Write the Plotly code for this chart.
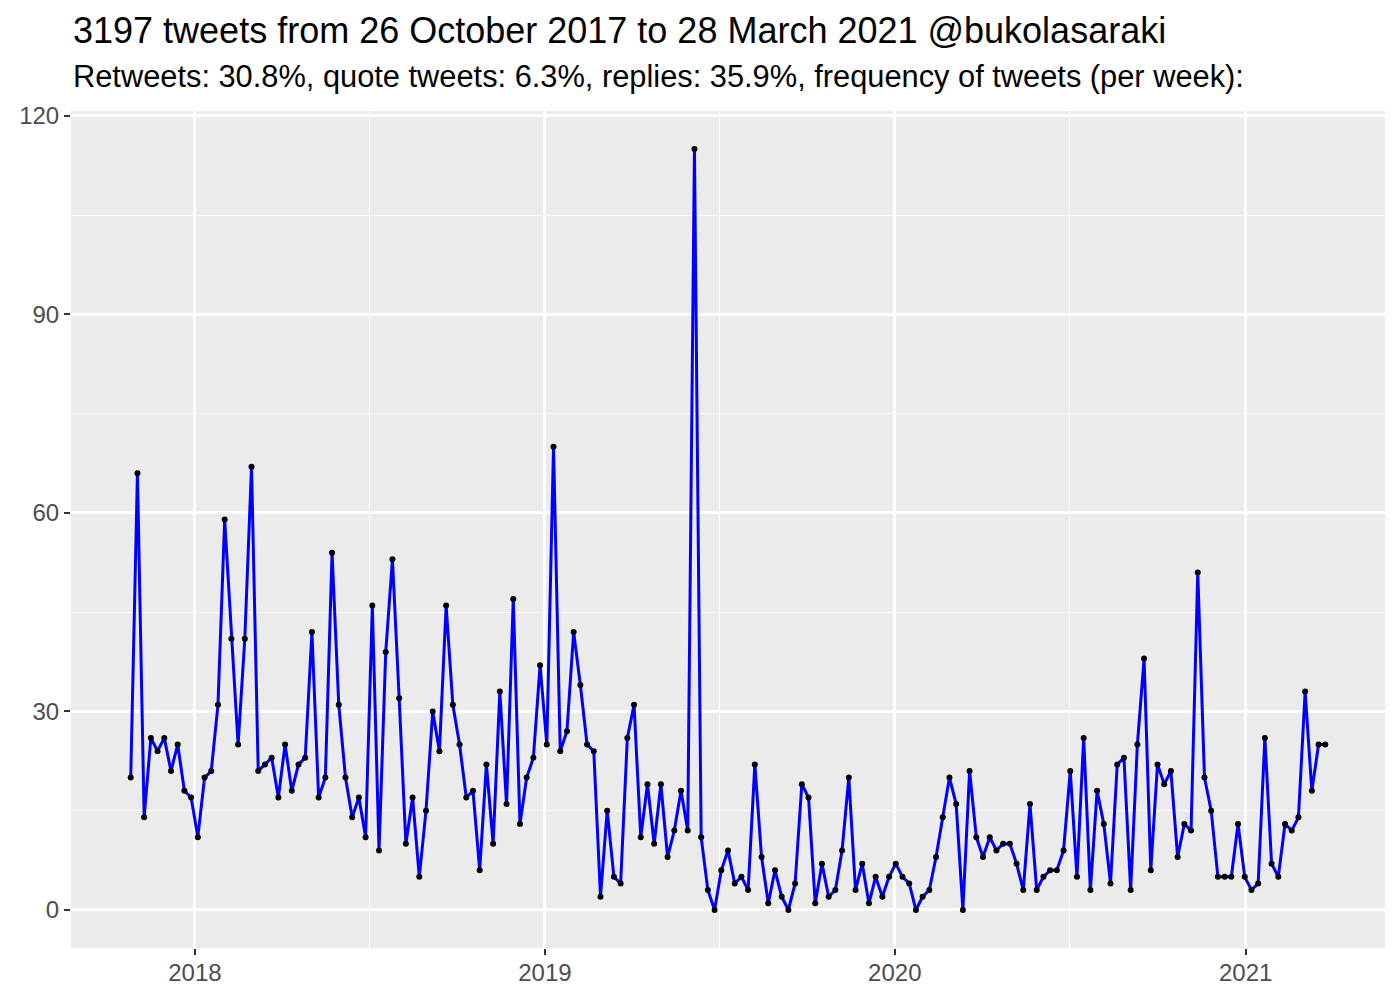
import pandas as pd
import plotly.graph_objects as go

# Weekly tweet counts
start_date = "2017-10-26"
tweets_per_week = [
    20, 66, 14, 26, 24, 26, 21, 25, 18, 17, 11, 20, 21, 31, 59, 41, 25, 41, 67, 21,
    22, 23, 17, 25, 18, 22, 23, 42, 17, 20, 54, 31, 20, 14, 17, 11, 46, 9, 39, 53,
    32, 10, 17, 5, 15, 30, 24, 46, 31, 25, 17, 18, 6, 22, 10, 33, 16, 47, 13, 20,
    23, 37, 25, 70, 24, 27, 42, 34, 25, 24, 2, 15, 5, 4, 26, 31, 11, 19, 10, 19,
    8, 12, 18, 12, 115, 11, 3, 0, 6, 9, 4, 5, 3, 22, 8, 1, 6, 2, 0, 4,
    19, 17, 1, 7, 2, 3, 9, 20, 3, 7, 1, 5, 2, 5, 7, 5, 4, 0, 2, 3,
    8, 14, 20, 16, 0, 21, 11, 8, 11, 9, 10, 10, 7, 3, 16, 3, 5, 6, 6, 9,
    21, 5, 26, 3, 18, 13, 4, 22, 23, 3, 25, 38, 6, 22, 19, 21, 8, 13, 12, 51,
    20, 15, 5, 5, 5, 13, 5, 3, 4, 26, 7, 5, 13, 12, 14, 33, 18, 25, 25,
]
weeks = pd.date_range(start=start_date, periods=len(tweets_per_week), freq="7D")

title_text = "3197 tweets from 26 October 2017 to 28 March 2021 @bukolasaraki"
subtitle_text = ("Retweets: 30.8%, quote tweets: 6.3%, replies: 35.9%, "
                 "frequency of tweets (per week):")
x_tick_vals = ["2018-01-01", "2019-01-01", "2020-01-01", "2021-01-01"]
x_tick_text = ["2018", "2019", "2020", "2021"]
x_minor_vals = ["2018-07-02", "2019-07-02", "2020-07-01"]
y_tick_vals = [0, 30, 60, 90, 120]
y_minor_vals = [15, 45, 75, 105]

FONT = "Liberation Sans, Arial, Helvetica, sans-serif"

fig = go.Figure()
fig.add_trace(go.Scatter(
    x=weeks, y=tweets_per_week, mode="lines+markers",
    line=dict(color="#0000FF", width=3),
    marker=dict(color="black", size=6),
    hoverinfo="x+y", showlegend=False,
))

span = weeks[-1] - weeks[0]
pad = span * 0.05
ymax = max(tweets_per_week)

fig.update_layout(
    width=1400, height=1000, autosize=False,
    margin=dict(l=71, r=15, t=111, b=52, pad=0),
    paper_bgcolor="white", plot_bgcolor="#EBEBEB",
    font=dict(family=FONT, color="#4D4D4D", size=24),
    xaxis=dict(
        type="date", range=[weeks[0] - pad, weeks[-1] + pad],
        tickvals=x_tick_vals, ticktext=x_tick_text,
        showgrid=True, gridcolor="white", gridwidth=2.6,
        ticks="outside", ticklen=6, tickwidth=2.2, tickcolor="#333333",
        ticklabelstandoff=-3,
        tickfont=dict(family=FONT, size=24, color="#4D4D4D"),
        zeroline=False, showline=False,
        minor=dict(tickvals=x_minor_vals, showgrid=True, gridcolor="white",
                   gridwidth=1.3, ticks=""),
    ),
    yaxis=dict(
        range=[-0.05 * ymax, ymax * 1.05],
        tickvals=y_tick_vals,
        showgrid=True, gridcolor="white", gridwidth=2.6,
        ticks="outside", ticklen=6, tickwidth=2.2, tickcolor="#333333",
        tickfont=dict(family=FONT, size=24, color="#4D4D4D"),
        zeroline=False, showline=False,
        minor=dict(tickvals=y_minor_vals, showgrid=True, gridcolor="white",
                   gridwidth=1.3, ticks=""),
    ),
    annotations=[
        dict(text=title_text, xref="paper", yref="paper", x=0, y=(948 - 30) / 837,
             xanchor="left", yanchor="middle", showarrow=False,
             font=dict(family=FONT, size=36, color="black")),
        dict(text=subtitle_text, xref="paper", yref="paper", x=0, y=(948 - 76) / 837,
             xanchor="left", yanchor="middle", showarrow=False,
             font=dict(family=FONT, size=30.8, color="black")),
    ],
)

fig.write_html("out.html", config={"displayModeBar": False},
               post_script="document.body.style.margin='0';")
